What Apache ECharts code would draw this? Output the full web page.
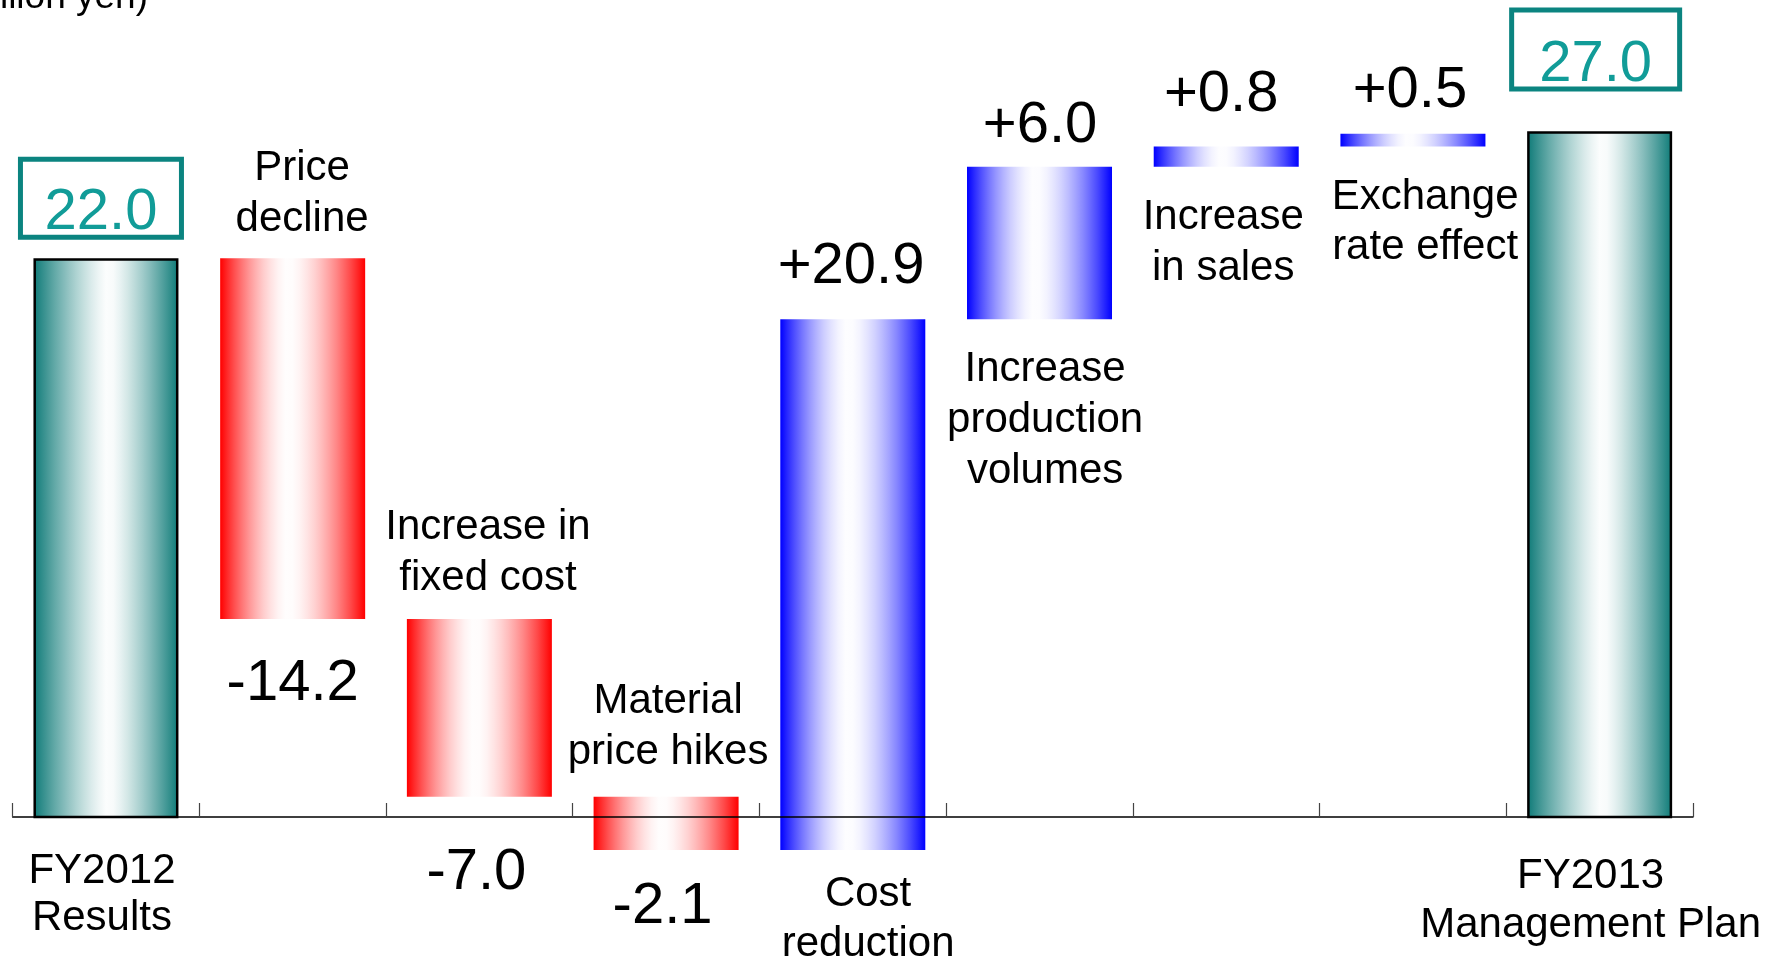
<!DOCTYPE html>
<html>
<head>
<meta charset="utf-8">
<script src="https://cdn.jsdelivr.net/npm/echarts@6/dist/echarts.min.js"></script>
<style>
html,body{margin:0;padding:0;background:#fff;}
#chart{width:1780px;height:959px;}
</style>
</head>
<body>
<div id="chart"></div>
<script>
// ---- data ----
const categories = ['FY2012 Results', 'Price decline', 'Increase in fixed cost', 'Material price hikes', 'Cost reduction', 'Increase production volumes', 'Increase in sales', 'Exchange rate effect', 'FY2013 Management Plan'];
const nameLines = ['FY2012\nResults', 'Price\ndecline', 'Increase in\nfixed cost', 'Material\nprice hikes', 'Cost\nreduction', 'Increase\nproduction\nvolumes', 'Increase\nin sales', 'Exchange\nrate effect', 'FY2013\nManagement Plan'];
const deltas = [22.0, -14.2, -7.0, -2.1, 20.9, 6.0, 0.8, 0.5, 27.0];
const kinds = ['total', 'down', 'down', 'down', 'up', 'up', 'up', 'up', 'total'];
const valueText = ['22.0', '-14.2', '-7.0', '-2.1', '+20.9', '+6.0', '+0.8', '+0.5', '27.0'];
const unitText = '(billion yen)';

// ---- layout (label offsets in px, relative to bar ends / axis) ----
const valueOffsets = [[-5, -49], [0, 61.6], [-3, 72.6], [-3.5, 53], [-1.7, -55.7], [0.6, -45], [-5, -55], [-3, -47], [-4, -70.7]];
const nameAnchor = ['axis', 'top', 'top', 'top', 'bottom', 'bottom', 'bottom', 'bottom', 'axis'];
const nameOffsets = [[-4, 74], [9.4, -68.7], [8.6, -70], [2, -74], [15.3, 65], [5.6, 97.3], [-3, 72], [12.2, 71.6], [-9, 80]];
const nameLineHeights = [46.5, 51, 51, 50.5, 50, 51, 51.5, 50, 49];
const boxSizes = {0: [161, 78], 8: [168, 79]};
const TEXT_DY = 4;

// waterfall ranges
let run = 0;
const ranges = deltas.map((d, i) => {
  if (kinds[i] === 'total') { run = d; return [0, d]; }
  const s = run; run = +(run + d).toFixed(2);
  return [Math.min(s, run), Math.max(s, run)];
});
const seriesData = ranges.map((r, i) => [i, r[0], r[1]]);

const FONT = "'Liberation Sans', Arial, sans-serif";
function mixHex(rgb, w) {
  const c = rgb.map(v => Math.round(255 + (v - 255) * w));
  return 'rgb(' + c.join(',') + ')';
}
function grad(rgb, mid, p) {
  const stops = [];
  for (let k = 0; k <= 20; k++) {
    const o = k / 20;
    const d = o < mid ? (mid - o) / mid : (o - mid) / (1 - mid);
    stops.push({offset: o, color: mixHex(rgb, Math.pow(d, p))});
  }
  return new echarts.graphic.LinearGradient(0, 0, 1, 0, stops);
}

function renderItem(params, api) {
  const i = api.value(0), lo = api.value(1), hi = api.value(2);
  const pt = api.coord([i, hi]), pb = api.coord([i, lo]), pz = api.coord([i, 0]);
  const bw = api.size([1, 0])[0] * 0.7766;
  const cx = pt[0];
  const kind = kinds[i];
  const children = [];
  let style;
  if (kind === 'total') {
    style = {fill: grad([13, 122, 119], 0.52, 1.3), stroke: '#000', lineWidth: 2.5};
  } else if (kind === 'down') {
    style = {fill: grad([255, 0, 0], 0.47, 1.6)};
  } else {
    style = {fill: grad([0, 0, 255], 0.47, 1.6)};
  }
  const inset = kind === 'total' ? 1.25 : 0;
  children.push({type: 'rect', shape: {x: cx - bw / 2 + inset, y: pt[1] + inset, width: bw - 2 * inset, height: pb[1] - pt[1] - inset}, style: style});

  // value label
  const vo = valueOffsets[i];
  const vy = (kind === 'down' ? pb[1] : pt[1]) + vo[1];
  const vx = cx + vo[0];
  children.push({type: 'text', x: vx, y: vy + TEXT_DY, z2: 5, style: {text: valueText[i], fontSize: 58, fontFamily: FONT, fill: kind === 'total' ? '#119c98' : '#000', align: 'center', verticalAlign: 'middle'}});
  if (boxSizes[i]) {
    const b = boxSizes[i];
    const bcy = vy - 11;
    children.push({type: 'rect', shape: {x: vx - b[0] / 2, y: bcy - b[1] / 2, width: b[0], height: b[1]}, style: {fill: 'none', stroke: '#0b8480', lineWidth: 5}});
  }
  // name label
  const no = nameOffsets[i];
  const anchorY = nameAnchor[i] === 'axis' ? pz[1] : (nameAnchor[i] === 'top' ? pt[1] : pb[1]);
  children.push({type: 'text', x: cx + no[0], y: anchorY + no[1] + TEXT_DY, z2: 5, style: {text: nameLines[i], fontSize: 42, fontFamily: FONT, fill: '#000', align: 'center', verticalAlign: 'middle', lineHeight: nameLineHeights[i]}});
  return {type: 'group', children: children};
}

const chart = echarts.init(document.getElementById('chart'));
chart.setOption({
  animation: false,
  backgroundColor: '#ffffff',
  grid: {left: 12.6, right: 87, top: 55, bottom: 15},
  xAxis: {
    type: 'category', data: categories, z: 10,
    axisLabel: {show: false},
    axisTick: {show: true, inside: true, interval: 0, length: 14, lineStyle: {color: '#444', width: 1.2}},
    axisLine: {onZero: true, lineStyle: {color: '#000', width: 1.5}},
    splitLine: {show: false}
  },
  yAxis: {type: 'value', min: -5, max: 30, show: false},
  graphic: [{type: 'text', right: 1780 - 148, top: -20.5, style: {text: unitText, fontSize: 37, fontFamily: FONT, fill: '#000'}}],
  series: [{type: 'custom', renderItem: renderItem, data: seriesData, encode: {x: 0, y: [1, 2]}, z: 2}]
});
</script>
</body>
</html>
